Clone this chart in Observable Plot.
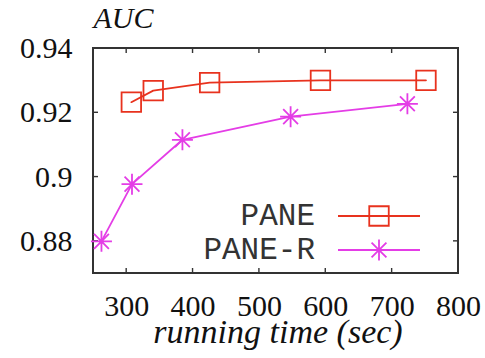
<!DOCTYPE html>
<html>
<head>
<meta charset="utf-8">
<script src="https://cdn.jsdelivr.net/npm/d3@7"></script>
<script src="https://cdn.jsdelivr.net/npm/@observablehq/plot@0.6"></script>
<style>
  body { margin: 0; background: #fff; }
  #chart svg { display: block; }
</style>
</head>
<body>
<div id="chart"></div>
<script>
// AUC versus running time for the two methods
const paneTime = [307, 340, 425, 592, 751];
const paneAuc = [0.9233, 0.9269, 0.9294, 0.9301, 0.9301];
const paneRTime = [262, 308, 384, 547, 723];
const paneRAuc = [0.8800, 0.8978, 0.9116, 0.9188, 0.9228];
const seriesNames = ["PANE", "PANE-R"];
const xTicks = [300, 400, 500, 600, 700, 800];
const yTicks = [0.88, 0.9, 0.92, 0.94];
const yTickLabels = ["0.88", "0.9", "0.92", "0.94"];
const yLabel = "AUC";
const xLabel = "running time (sec)";

const colors = ["#e8321e", "#e43de6"];
const serif = "Liberation Serif";
const mono = "Liberation Mono";

const pane = paneTime.map((t, i) => ({time: t, auc: paneAuc[i]}));
const paneR = paneRTime.map((t, i) => ({time: t, auc: paneRAuc[i]}));

// open square and eight-armed star point symbols; r is the half-size
const boxSymbol = {
  draw(ctx, size) {
    const h = Math.sqrt(size / Math.PI);
    ctx.moveTo(-h, -h); ctx.lineTo(h, -h); ctx.lineTo(h, h); ctx.lineTo(-h, h); ctx.closePath();
  }
};
const starSymbol = {
  draw(ctx, size) {
    const r = Math.sqrt(size / Math.PI), d = r * Math.SQRT1_2;
    ctx.moveTo(-r, 0); ctx.lineTo(r, 0);
    ctx.moveTo(0, -r); ctx.lineTo(0, r);
    ctx.moveTo(-d, -d); ctx.lineTo(d, d);
    ctx.moveTo(-d, d); ctx.lineTo(d, -d);
  }
};
const symbols = [boxSymbol, starSymbol];
const symbolR = [9.75, 10.5];

// box frame with inward ticks on all four sides
function frameWithTicks(index, {x, y}, values, dims) {
  const L = dims.marginLeft, R = dims.width - dims.marginRight;
  const T = dims.marginTop, B = dims.height - dims.marginBottom;
  const len = 5;
  const g = d3.create("svg:g").attr("stroke", "#333").attr("fill", "none");
  for (const v of xTicks) {
    const px = x(v);
    g.append("line").attr("x1", px).attr("x2", px).attr("y1", B).attr("y2", B - len).attr("stroke-width", 1.4);
    g.append("line").attr("x1", px).attr("x2", px).attr("y1", T).attr("y2", T + len).attr("stroke-width", 1.4);
  }
  for (const v of yTicks) {
    const py = y(v);
    g.append("line").attr("x1", L).attr("x2", L + len).attr("y1", py).attr("y2", py).attr("stroke-width", 1.4);
    g.append("line").attr("x1", R).attr("x2", R - len).attr("y1", py).attr("y2", py).attr("stroke-width", 1.4);
  }
  g.append("rect").attr("x", L).attr("y", T).attr("width", R - L).attr("height", B - T).attr("stroke-width", 2);
  return g.node();
}

// legend in the lower right corner of the frame
function legend(index, scales, values, dims) {
  const R = dims.width - dims.marginRight, B = dims.height - dims.marginBottom;
  const rows = [B - 57, B - 23];
  const g = d3.create("svg:g");
  seriesNames.forEach((name, i) => {
    const yy = rows[i];
    g.append("text").attr("x", R - 143).attr("y", yy).attr("dy", "0.3em")
      .attr("text-anchor", "end").attr("font-family", mono).attr("font-size", 31)
      .attr("fill", "#333").text(name);
    g.append("line").attr("x1", R - 120).attr("x2", R - 38).attr("y1", yy).attr("y2", yy)
      .attr("stroke", colors[i]).attr("stroke-width", 1.8);
    const r = symbolR[i];
    g.append("path").attr("transform", `translate(${R - 79},${yy})`)
      .attr("d", d3.symbol(symbols[i], r * r * Math.PI)())
      .attr("fill", "none").attr("stroke", colors[i]).attr("stroke-width", 1.8);
  });
  return g.node();
}

const chart = Plot.plot({
  width: 485,
  height: 358,
  marginLeft: 93,
  marginRight: 27,
  marginTop: 48,
  marginBottom: 85,
  style: {background: "#fff", color: "#111"},
  x: {domain: [250, 800], label: null, axis: null},
  y: {domain: [0.87, 0.94], label: null, axis: null},
  marks: [
    // tick labels
    Plot.text(xTicks, {x: d => d, frameAnchor: "bottom", text: d => String(d), lineAnchor: "top", dy: 21,
      fontSize: 30, fontFamily: serif, fill: "#111"}),
    Plot.text(yTicks, {y: d => d, frameAnchor: "left", text: (d, i) => yTickLabels[i], textAnchor: "end",
      lineAnchor: "middle", dx: -21, fontSize: 30, fontFamily: serif, fill: "#111"}),
    frameWithTicks,
    Plot.line(pane, {x: "time", y: "auc", stroke: colors[0], strokeWidth: 1.8}),
    Plot.dot(pane, {x: "time", y: "auc", symbol: () => boxSymbol, r: symbolR[0], fill: "none", stroke: colors[0], strokeWidth: 1.8}),
    Plot.line(paneR, {x: "time", y: "auc", stroke: colors[1], strokeWidth: 1.8}),
    Plot.dot(paneR, {x: "time", y: "auc", symbol: () => starSymbol, r: symbolR[1], fill: "none", stroke: colors[1], strokeWidth: 1.8}),
    legend,
    // axis titles
    Plot.text([yLabel], {frameAnchor: "top-left", text: d => d, textAnchor: "start", lineAnchor: "middle",
      dx: 0, dy: -30, fontSize: 30, fontStyle: "italic", fontFamily: serif, fill: "#111"}),
    Plot.text([xLabel], {frameAnchor: "bottom", text: d => d, lineAnchor: "middle", dx: 2, dy: 59,
      fontSize: 34, fontStyle: "italic", fontFamily: serif, fill: "#111"})
  ]
});

document.getElementById("chart").append(chart);
</script>
</body>
</html>
